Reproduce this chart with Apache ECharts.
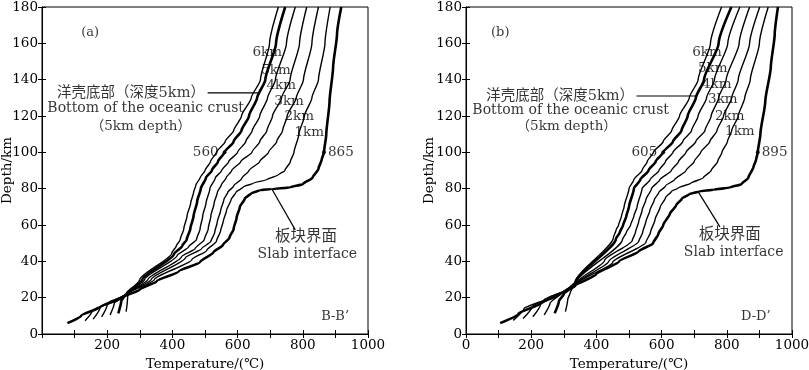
<!DOCTYPE html>
<html><head><meta charset="utf-8">
<script src="https://cdn.jsdelivr.net/npm/echarts@6/dist/echarts.min.js"></script>
<style>html,body{margin:0;padding:0;background:#fff}#c{width:809px;height:370px}</style>
</head><body><div id="c"></div>
<script>
// ---------- data: [temperature °C, depth km] ----------
const xTicks = [0,100,200,300,400,500,600,700,800,900,1000];
const yTicks = [0,20,40,60,80,100,120,140,160,180];

// Panel (a) B-B'
const slabA = [[78,6],[120,10],[180,15],[245,20],[300,24.5],[352,29],[420,34.5],[485,39.6],[526,45],[555,49],[575,53],[588,58],[597,64],[607,70],[622,74.5],[642,77.5],[670,79.2],[705,79.8],[760,80.7],[800,82.5],[830,86],[848,91],[858,96],[865,100],[872,110],[882,128],[893,147],[905,165],[918,180]];
const km1A = [[132,7.3],[155,13],[205,17.5],[258,21.5],[345,30],[460,41],[505,46],[535,51],[548,57],[556,62],[566,68],[580,74],[595,78],[618,81],[648,83],[690,85],[725,87.6],[745,90],[762,95],[773,100],[788,110],[805,120],[828,130],[848,140],[868,160],[884,180]];
const km2A = [[157,8.2],[178,14.5],[222,18.5],[258,21.7],[335,30],[440,42],[490,47],[518,51],[530,56],[538,62],[548,68],[558,74],[570,78],[588,81.5],[612,85.5],[635,90],[668,95],[695,100],[720,106],[738,112],[752,120],[780,130],[802,140],[828,160],[848,180]];
const km3A = [[183,9.4],[200,16],[235,19.5],[258,21.9],[325,30],[428,42.5],[470,47],[498,52],[510,58],[518,65],[528,72],[538,78],[550,82],[565,86],[582,90],[610,95],[644,100],[668,106],[690,112],[707,120],[735,130],[761,140],[790,160],[812,180]];
const km4A = [[209,10.5],[222,17],[245,20.3],[258,22],[315,30],[415,43.3],[450,48],[474,52],[485,58],[493,65],[503,72],[515,80],[532,86],[551,90],[573,95],[600,100],[625,106],[645,112],[668,120],[692,130],[716,140],[750,160],[777,180]];
const km5A = [[234,11.4],[243,18],[252,20.8],[260,22.2],[308,30],[405,44],[430,48.5],[444,52],[455,58],[465,65],[476,73],[487,80],[503,86],[521,90],[540,95],[560,100],[588,106],[612,112],[635,120],[660,130],[685,140],[718,160],[746,180]];
const km6A = [[258,12.3],[262,18.5],[263,21],[265,22.4],[300,30],[398,44.5],[412,48.5],[424,52],[435,58],[445,65],[456,72],[465,78],[472,82],[485,86],[500,90],[517,95],[535,100],[562,106],[588,112],[612,120],[642,130],[670,140],[698,160],[725,180]];

// Panel (b) D-D'
const slabB = [[105,6],[160,11],[230,17],[290,22],[335,26.5],[400,33],[470,40],[530,45.5],[574,50],[590,55],[605,60],[625,66],[645,71],[662,74.5],[685,77],[715,78.5],[760,79.4],[810,80.6],[845,82.5],[866,86],[882,92],[890,96],[895,100],[903,110],[918,128],[935,147],[947,165],[957,180]];
const km1B = [[145,7.5],[178,14],[240,19],[300,23.5],[340,27.5],[450,39.5],[552,50.5],[566,56],[580,63],[596,70],[612,75],[630,78.5],[652,80.5],[690,83],[728,86],[752,90],[772,95],[785,100],[802,106],[815,112],[835,120],[855,130],[872,140],[900,160],[927,180]];
const km2B = [[175,8.5],[203,15],[255,20],[305,24],[340,27.8],[438,40],[530,51],[542,56],[552,62],[564,68],[578,74],[592,78],[612,81.5],[640,85],[675,90],[700,95],[720,100],[748,106],[770,112],[790,120],[815,130],[835,140],[870,160],[901,180]];
const km3B = [[205,9.5],[228,16],[270,21],[310,24.5],[338,28],[425,40.5],[510,51.5],[520,56],[530,62],[540,68],[552,74],[569,80],[595,85],[630,90],[652,95],[675,100],[705,106],[733,112],[752,120],[775,130],[798,140],[838,160],[870,180]];
const km4B = [[240,10.5],[258,17],[285,21.5],[315,25],[337,28.2],[480,52],[492,56],[505,60],[515,65],[525,70],[540,80],[565,85],[592,90],[612,95],[635,100],[665,106],[692,112],[712,120],[738,130],[762,140],[803,160],[840,180]];
const km5B = [[272,11.4],[285,18],[300,22],[320,25.5],[336,28.4],[460,52.5],[472,56],[482,60],[492,65],[500,70],[515,80],[535,85],[560,90],[582,95],[605,100],[635,106],[661,112],[680,120],[705,130],[730,140],[775,160],[814,180]];
const km6B = [[305,12.3],[312,19],[320,23],[330,26.5],[335,28.6],[452,53],[460,57],[468,60],[477,65],[485,70],[500,80],[515,85],[540,90],[556,95],[575,100],[605,106],[631,112],[655,120],[685,130],[712,140],[750,160],[784,180]];

// marked values at 100 km depth: [temperature, depth]
const dotsA = [[560,100],[865,100]];
const dotsB = [[605,100],[895,100]];

// label texts
const kmLabels = ['6km','5km','4km','3km','2km','1km'];
const crustCN = '洋壳底部（深度5km）';
const crustEN = 'Bottom of the oceanic crust';
const crustEN2 = '（5km depth）';
const slabCN = '板块界面';
const slabEN = 'Slab interface';
const panelTags = ['(a)','(b)'];
const sectionTags = ['B-B’','D-D’'];

// ---------- layout (anchor positions in data coordinates) ----------
const annA = {
  tag:[148,166], km:[[691,155],[718,145],[734,137],[758,128],[789,119.5],[820,111]],
  cn:[273,132.6], en:[318,124], en2:[303,114], scn:[810,53.5], sen:[814,44], sec:[899,9.5],
  crustLead:[[508,132.7],[667,132.7]], slabLead:[[705,79.8],[777,57.3]]
};
const annB = {
  tag:[105,165.7], km:[[739,154.7],[757,146],[769,137.6],[788,129],[809,120],[840,111.7]],
  cn:[289,131], en:[321,123], en2:[309,114], scn:[809,54.5], sen:[821,45], sec:[889,9.5],
  crustLead:[[523,131],[710,131]], slabLead:[[712,78.4],[779,59]]
};

const FONT = '"DejaVu Serif", "Noto Sans CJK SC", serif';
const chart = echarts.init(document.getElementById('c'), null, {renderer:'canvas'});

function grid(left){ return {left:left, top:7, width:326, height:327, show:true, borderColor:'#000', borderWidth:1, backgroundColor:'transparent', containLabel:false, outerBoundsMode:'none'}; }
function xAx(gi, pos, showLab, hideZero, nameGap){
  return {gridIndex:gi, type:'value', min:xTicks[0], max:xTicks[xTicks.length-1], interval:xTicks[1]-xTicks[0], position:pos,
    axisLine:{show:true, lineStyle:{color:'#000', width:1}},
    axisTick:{show:true, inside:true, length:4, lineStyle:{color:'#000', width:1}},
    splitLine:{show:false},
    axisLabel:{show:showLab, margin:5, color:'#000', fontFamily:FONT, fontSize:13.5,
      formatter: v => (v % 200 === 0 && !(hideZero && v === 0)) ? String(v) : ''},
    name: showLab ? 'Temperature/(℃)' : '', nameLocation:'middle', nameGap:nameGap,
    nameTextStyle:{color:'#000', fontFamily:FONT, fontSize:13.5}};
}
function yAx(gi, pos, showLab, nameGap){
  return {gridIndex:gi, type:'value', min:yTicks[0], max:yTicks[yTicks.length-1], interval:yTicks[1]-yTicks[0], position:pos,
    axisLine:{show:true, lineStyle:{color:'#000', width:1}},
    axisTick:{show:true, inside:true, length:4, lineStyle:{color:'#000', width:1}},
    splitLine:{show:false},
    axisLabel:{show:showLab, margin:4, color:'#000', fontFamily:FONT, fontSize:13.5},
    name: showLab ? 'Depth/km' : '', nameLocation:'middle', nameGap:nameGap, nameMoveOverlap:false,
    nameTextStyle:{color:'#000', fontFamily:FONT, fontSize:13.5}};
}
function line(data, ai, bold){
  return {type:'line', xAxisIndex:ai, yAxisIndex:ai, data:data, showSymbol:false, symbol:'none',
    smooth:0.2, smoothMonotone:'y', silent:true, z: bold ? 4 : 3,
    lineStyle:{color:'#000', width: bold ? 2.6 : 1.4}};
}
function lead(pts, ai){
  return {type:'line', xAxisIndex:ai, yAxisIndex:ai, data:pts, showSymbol:false, symbol:'none', silent:true, z:3,
    lineStyle:{color:'#000', width:1.2}};
}
function txt(pos, text, size){
  return {value:pos, name:text, label:{fontSize:size}};
}
function annSeries(an, ai, p){
  const items = [txt(an.tag, panelTags[p], 13)];
  an.km.forEach((k,i) => items.push(txt(k, kmLabels[i], 13.5)));
  items.push(txt(an.cn, crustCN, 14.5));
  items.push(txt(an.en, crustEN, 14));
  items.push(txt(an.en2, crustEN2, 13.5));
  items.push(txt(an.scn, slabCN, 15.5));
  items.push(txt(an.sen, slabEN, 14));
  items.push(txt(an.sec, sectionTags[p], 13));
  return {type:'scatter', xAxisIndex:ai, yAxisIndex:ai, symbolSize:0, silent:true, z:6, data:items,
    label:{show:true, position:[0,0], align:'center', verticalAlign:'middle', color:'#000', fontFamily:FONT, formatter:'{b}'}};
}
function dotSeries(d, ai){
  return {type:'scatter', xAxisIndex:ai, yAxisIndex:ai, symbolSize:4, silent:true, z:7,
    itemStyle:{color:'#000'},
    data:[{value:d[0], label:{position:'left', distance:4}}, {value:d[1], label:{position:'right', distance:2}}],
    label:{show:true, color:'#000', fontFamily:FONT, fontSize:13.5, formatter: p => String(p.value[0])}};
}

const series = [];
[slabA, km1A, km2A, km3A, km4A, km5A, km6A].forEach((d,i) => series.push(line(d, 0, i===0 || i===5)));
[slabB, km1B, km2B, km3B, km4B, km5B, km6B].forEach((d,i) => series.push(line(d, 2, i===0 || i===5)));
series.push(lead(annA.crustLead, 0), lead(annA.slabLead, 0), lead(annB.crustLead, 2), lead(annB.slabLead, 2));
series.push(annSeries(annA, 0, 0), annSeries(annB, 2, 1));
series.push(dotSeries(dotsA, 0), dotSeries(dotsB, 2));

chart.setOption({
  animation:false,
  backgroundColor:'#fff',
  grid:[grid(42), grid(466)],
  xAxis:[xAx(0,'bottom',true,true,21), xAx(0,'top',false,false,0), xAx(1,'bottom',true,false,21), xAx(1,'top',false,false,0)],
  yAxis:[yAx(0,'left',true,27.5), yAx(0,'right',false,0), yAx(1,'left',true,30), yAx(1,'right',false,0)],
  series:series
});
</script></body></html>
